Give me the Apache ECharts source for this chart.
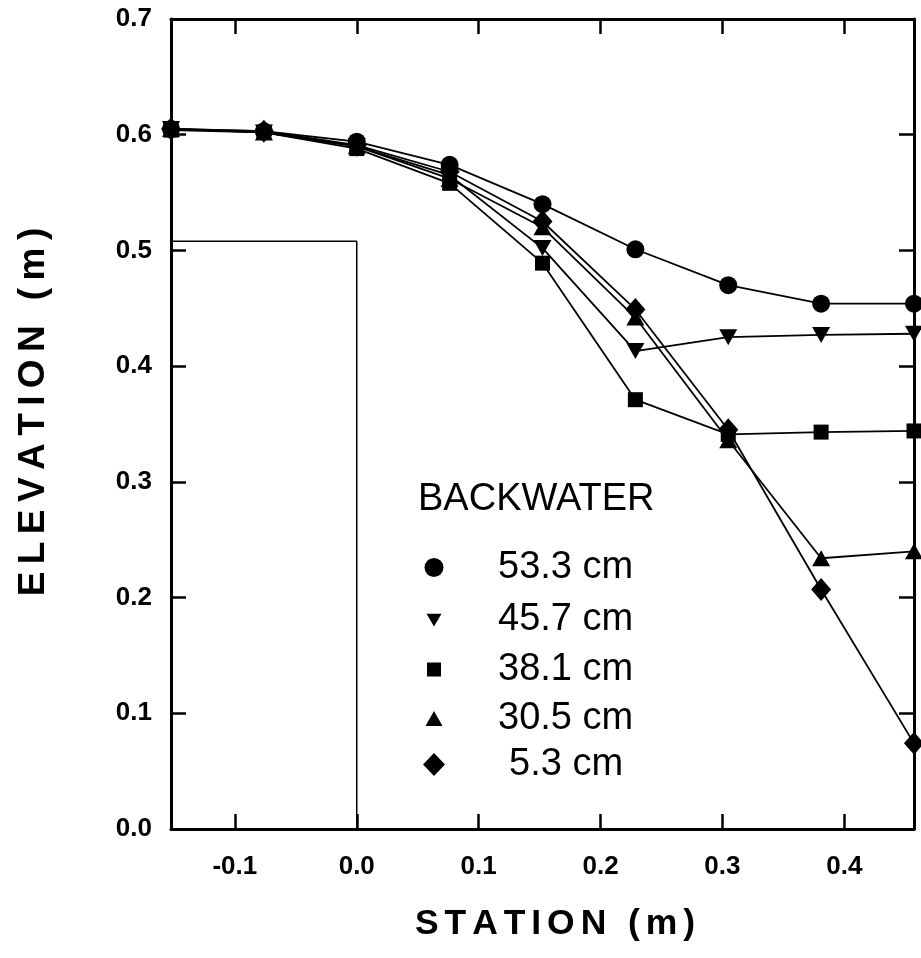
<!DOCTYPE html>
<html>
<head>
<meta charset="utf-8">
<script src="https://cdn.jsdelivr.net/npm/echarts@6/dist/echarts.min.js"></script>
<style>
  html, body { margin: 0; padding: 0; background: #fff; }
  #chart { width: 921px; height: 958px; }
</style>
</head>
<body>
<div id="chart"></div>
<script>
// Stations along the flume (m)
const stations = [-0.1524, -0.0762, 0, 0.0762, 0.1524, 0.2286, 0.3048, 0.381, 0.4572];

// Water-surface elevation (m) for each backwater depth
const bw533 = [0.605, 0.603, 0.594, 0.574, 0.540, 0.501, 0.470, 0.454, 0.454];
const bw457 = [0.605, 0.602, 0.590, 0.565, 0.502, 0.413, 0.425, 0.427, 0.428];
const bw381 = [0.604, 0.602, 0.588, 0.558, 0.489, 0.371, 0.341, 0.343, 0.344];
const bw305 = [0.605, 0.602, 0.590, 0.562, 0.520, 0.442, 0.336, 0.234, 0.240];
const bw53  = [0.605, 0.603, 0.591, 0.568, 0.525, 0.449, 0.345, 0.207, 0.074];

const seriesNames = ['53.3 cm', '45.7 cm', '38.1 cm', '30.5 cm', '5.3 cm'];

// Weir outline (m)
const weirX = [-0.1524, 0, 0];
const weirY = [0.508, 0.508, 0];

// Tick positions
const xTicks = [-0.1, 0, 0.1, 0.2, 0.3, 0.4];

const FONT = '"Liberation Sans", Arial, sans-serif';
// letter-spaced titles: thin space (U+2009) / six-per-em space (U+2006)
const spaced = (s, sp) => s.split('').join(sp);

const invTri = 'path://M0,0 L20,0 L10,17 Z';
const symbols = ['circle', invTri, 'rect', 'triangle', 'diamond'];
const sizes = [18, [18, 16], 15, [18, 16], [20, 23]];
const values = [bw533, bw457, bw381, bw305, bw53];

const lineSeries = values.map((arr, k) => ({
  name: seriesNames[k],
  type: 'line',
  data: stations.map((x, i) => [x, arr[i]]),
  symbol: symbols[k],
  symbolSize: sizes[k],
  showAllSymbol: true,
  clip: false,
  lineStyle: { color: '#000', width: 1.8 },
  itemStyle: { color: '#000' },
  z: 3
}));

lineSeries.push({
  name: 'weir',
  type: 'line',
  data: weirX.map((x, i) => [x, weirY[i]]),
  showSymbol: false,
  symbol: 'none',
  clip: false,
  lineStyle: { color: '#000', width: 1.5 },
  z: 2
});

// Legend entries, one component each so every icon keeps its own size
const legIconSize = [[19, 19], [15, 14], [14, 14], [17, 15], [22, 23]];
const legCenterY = [558, 608, 657.5, 707, 757];
const legIcons = ['circle', invTri, 'rect', 'triangle', 'diamond'];
const legTextX = [498, 498, 498, 498, 509];
const ICON_CX = 434;

const legends = seriesNames.map((n, k) => {
  const [w, h] = legIconSize[k];
  const left = ICON_CX - w / 2;
  return {
    show: true,
    left: left,
    top: legCenterY[k] - h / 2,
    padding: 0,
    itemWidth: w,
    itemHeight: h,
    selectedMode: false,
    data: [{ name: n, icon: legIcons[k] }],
    itemStyle: { color: '#000' },
    textStyle: {
      fontFamily: FONT, fontSize: 38, color: '#000',
      padding: [0, 0, 0, legTextX[k] - (left + w + 5)]
    }
  };
});

const axisLineStyle = { show: true, onZero: false, lineStyle: { color: '#000', width: 3 } };
const tickStyle = { show: true, inside: true, length: 15, lineStyle: { color: '#000', width: 2.5 } };
const labelFont = { fontFamily: FONT, fontSize: 26, fontWeight: 'bold', color: '#000' };

const option = {
  animation: false,
  backgroundColor: '#fff',
  grid: { left: 171, top: 19, width: 743, height: 810, containLabel: false },
  legend: legends,
  graphic: [{
    type: 'text',
    x: 418,
    y: 500,
    style: {
      text: 'BACKWATER', font: '38px ' + FONT, fill: '#000',
      align: 'left', verticalAlign: 'middle', textAlign: 'left', textVerticalAlign: 'middle'
    }
  }, {
    type: 'text',
    x: 555,
    y: 924,
    style: {
      text: spaced('STATION (m)', '\u2006'), font: 'bold 35.5px ' + FONT, fill: '#000',
      align: 'center', verticalAlign: 'middle', textAlign: 'center', textVerticalAlign: 'middle'
    }
  }, {
    type: 'text',
    x: 34,
    y: 412,
    rotation: Math.PI / 2,
    style: {
      text: spaced('ELEVATION (m)', '\u2009'), font: 'bold 37px ' + FONT, fill: '#000',
      align: 'center', verticalAlign: 'middle', textAlign: 'center', textVerticalAlign: 'middle'
    }
  }],
  xAxis: [{
    type: 'value', position: 'bottom', min: -0.1524, max: 0.4572,
    axisLine: axisLineStyle,
    axisTick: Object.assign({ customValues: xTicks }, tickStyle),
    axisLabel: Object.assign({ customValues: xTicks, margin: 25, formatter: v => v.toFixed(1) }, labelFont),
    splitLine: { show: false }
  }, {
    type: 'value', position: 'top', min: -0.1524, max: 0.4572,
    axisLine: axisLineStyle,
    axisTick: Object.assign({ customValues: xTicks }, tickStyle),
    axisLabel: { show: false },
    splitLine: { show: false }
  }],
  yAxis: [{
    type: 'value', position: 'left', min: 0, max: 0.7, interval: 0.1,
    axisLine: axisLineStyle,
    axisTick: tickStyle,
    axisLabel: Object.assign({ margin: 19, formatter: v => v.toFixed(1) }, labelFont),
    splitLine: { show: false }
  }, {
    type: 'value', position: 'right', min: 0, max: 0.7, interval: 0.1,
    axisLine: axisLineStyle,
    axisTick: tickStyle,
    axisLabel: { show: false },
    splitLine: { show: false }
  }],
  series: lineSeries
};

const chart = echarts.init(document.getElementById('chart'), null, { renderer: 'canvas' });
chart.setOption(option);
</script>
</body>
</html>
